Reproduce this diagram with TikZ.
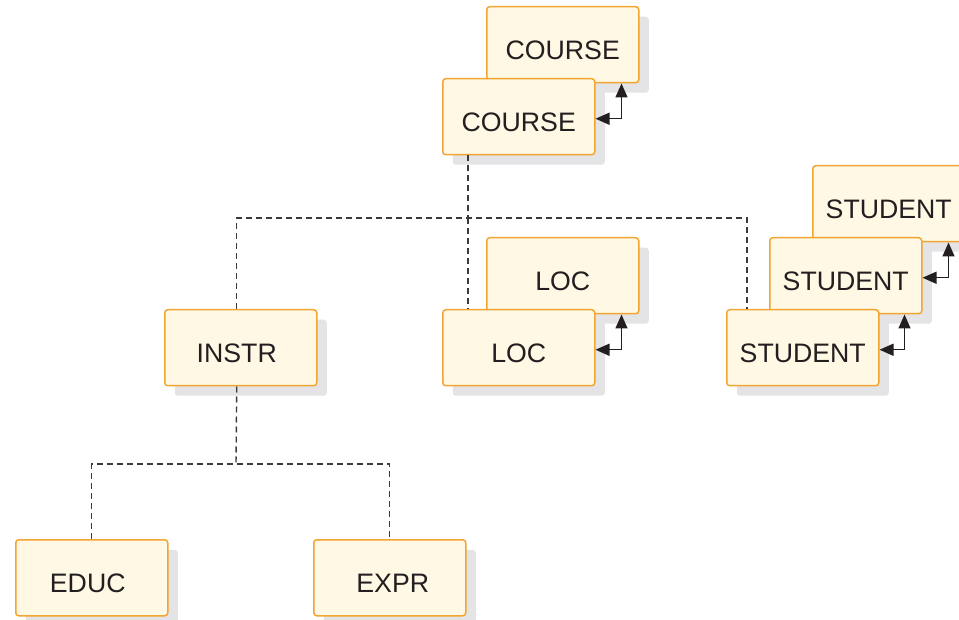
\documentclass[tikz,border=0pt]{standalone}
\usepackage{fontspec}
\setmainfont{Liberation Sans}
\usetikzlibrary{arrows.meta,shadows}
\definecolor{boxfill}{HTML}{FEF8E4}
\definecolor{boxline}{HTML}{F2A530}
\definecolor{shgray}{HTML}{E4E4E6}
\definecolor{ink}{HTML}{231F20}
\definecolor{dashc}{HTML}{3A3A3A}
\newcommand\bxt[1]{\raisebox{-5pt}[19pt][0pt]{#1}}
\tikzset{
  seg/.style={draw=boxline, line width=1.5pt, fill=boxfill, rounded corners=3pt,
    minimum width=152pt, minimum height=76pt, inner sep=0pt, anchor=north west,
    text=ink, font=\fontsize{26.7}{30}\selectfont,
    general shadow={fill=shgray, shadow xshift=10pt, shadow yshift=-10pt}},
  dashline/.style={draw=dashc, line width=1.4pt, dash pattern=on 6pt off 4pt},
  twin/.style={draw=ink, line width=1.5pt, {Triangle[length=14pt,width=12pt]}-{Triangle[length=14pt,width=12pt]}}
}
\begin{document}
\begin{tikzpicture}[x=1pt,y=-1pt]
\useasboundingbox (0,0) rectangle (959,620);
\clip (0,0) rectangle (959,620);
% COURSE stack
\node[seg] (cb) at (486,6) {\bxt{COURSE}};
\node[seg] (cf) at (442,78) {\bxt{COURSE}};
% LOC stack
\node[seg] (lb) at (486,237) {\bxt{LOC}};
\node[seg] (lf) at (442,309) {\bxt{LOC}};
% STUDENT stack
\node[seg] (sb) at (812,165) {\bxt{STUDENT}};
\node[seg] (sm) at (769,237) {\bxt{STUDENT}};
\node[seg] (sf) at (726,309) {\bxt{STUDENT}};
% INSTR and children
\node[seg] (instr) at (164,309) {\bxt{\hspace*{-8pt}INSTR}};
\node[seg] (educ) at (15,539) {\bxt{\hspace*{-8pt}EDUC}};
\node[seg] (expr) at (313,539) {\bxt{\hspace*{6pt}EXPR}};
% dashed hierarchy
\coordinate (hub) at (468,218);
\coordinate (hub2) at (236,464);
\draw[dashline] ([xshift=26pt]cf.south west) -- (hub);
\draw[dashline] ([xshift=-4pt]instr.north) |- (hub) -| ([xshift=21pt]sf.north west);
\draw[dashline] (hub) -- ([xshift=26pt]lf.north west);
\draw[dashline] ([xshift=-4pt]instr.south) -- (hub2);
\draw[dashline] (educ.north) |- (hub2) -| (expr.north);
% twin arrows
\draw[twin] ([yshift=-2pt]cf.east) -| ([xshift=-18pt]cb.south east);
\draw[twin] ([yshift=-2pt]lf.east) -| ([xshift=-18pt]lb.south east);
\draw[twin] ([yshift=-2pt]sf.east) -| ([xshift=-18pt]sm.south east);
\draw[twin] ([yshift=-2pt]sm.east) -| ([xshift=-17pt]sb.south east);
\end{tikzpicture}
\end{document}
